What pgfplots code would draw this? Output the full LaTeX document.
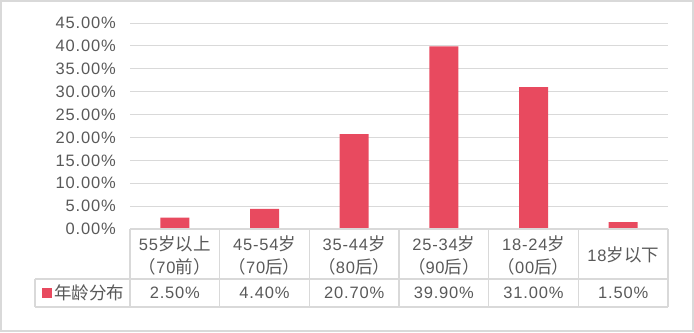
\documentclass[border=0pt]{standalone}
\usepackage{pgfplots}
\pgfplotsset{compat=1.18}
\usepackage{fontspec}
\setmainfont{Liberation Sans}[LetterSpace=5]
\newfontfamily\cjkf{Noto Sans CJK SC}
\newcommand{\cjk}{\cjkf\fontsize{17.5bp}{23bp}\selectfont}
\definecolor{barred}{RGB}{232,74,95}
\definecolor{txt}{RGB}{89,89,89}
\definecolor{gridgray}{RGB}{217,217,217}
\tikzset{valnode/.style={font=\fontsize{16.5bp}{19bp}\selectfont, text=txt, anchor=center, inner sep=0pt, yshift=-64bp}}
\begin{document}
\begin{tikzpicture}[x=1bp,y=1bp]
\useasboundingbox (0,0) rectangle (694,332);
\draw[gridgray, line width=1.5bp] (1,1) rectangle (693,331);
\begin{axis}[
  at={(130bp,103bp)}, anchor=south west,
  scale only axis, width=538bp, height=206bp,
  xmin=-0.5, xmax=5.5, ymin=0, ymax=45,
  axis line style={draw=none},
  ytick={0,5,...,45},
  ymajorgrids, grid style={gridgray, line width=1bp},
  major tick length=0pt,
  /pgf/number format/assume math mode=true,
  yticklabel={\pgfmathprintnumber[fixed,fixed zerofill,precision=2]{\tick}\%},
  yticklabel style={font=\fontsize{16.5bp}{19bp}\selectfont, text=txt, anchor=east, inner sep=0pt, xshift=-14bp},
  xtick={0,1,2,3,4,5},
  xticklabels={55{\cjk 岁以上}\\{\cjk （}70{\cjk 前）},
               45-54{\cjk 岁}\\{\cjk （}70{\cjk 后）},
               35-44{\cjk 岁}\\{\cjk （}80{\cjk 后）},
               25-34{\cjk 岁}\\{\cjk （}90{\cjk 后）},
               18-24{\cjk 岁}\\{\cjk （}00{\cjk 后）},
               18{\cjk 岁以下}},
  xticklabel style={font=\fontsize{16.5bp}{23bp}\selectfont, text=txt, align=center, anchor=center, inner sep=0pt, yshift=-26bp},
  clip=false,
]
\addplot[ybar, bar width=29bp, fill=barred, draw=none] coordinates {
  (0,2.5) (1,4.4) (2,20.7) (3,39.9) (4,31.0) (5,1.5)};
\node[valnode] at (axis cs:0,0) {2.50\%};
\node[valnode] at (axis cs:1,0) {4.40\%};
\node[valnode] at (axis cs:2,0) {20.70\%};
\node[valnode] at (axis cs:3,0) {39.90\%};
\node[valnode] at (axis cs:4,0) {31.00\%};
\node[valnode] at (axis cs:5,0) {1.50\%};
\end{axis}
\begin{scope}[draw=gridgray, line width=1.2bp]
\draw (130,103) -- (668,103);
\draw (35,53) -- (668,53);
\draw (35,25) -- (668,25);
\draw (130,103) -- (130,25);
\draw (219.67,103) -- (219.67,25);
\draw (309.33,103) -- (309.33,25);
\draw (399,103) -- (399,25);
\draw (488.67,103) -- (488.67,25);
\draw (578.33,103) -- (578.33,25);
\draw (668,103) -- (668,25);
\draw (35,53) -- (35,25);
\end{scope}
\fill[barred] (42,34) rectangle (52,44);
\node[text=txt, anchor=west, inner sep=0pt] at (54,39) {\cjk 年龄分布};
\end{tikzpicture}
\end{document}
